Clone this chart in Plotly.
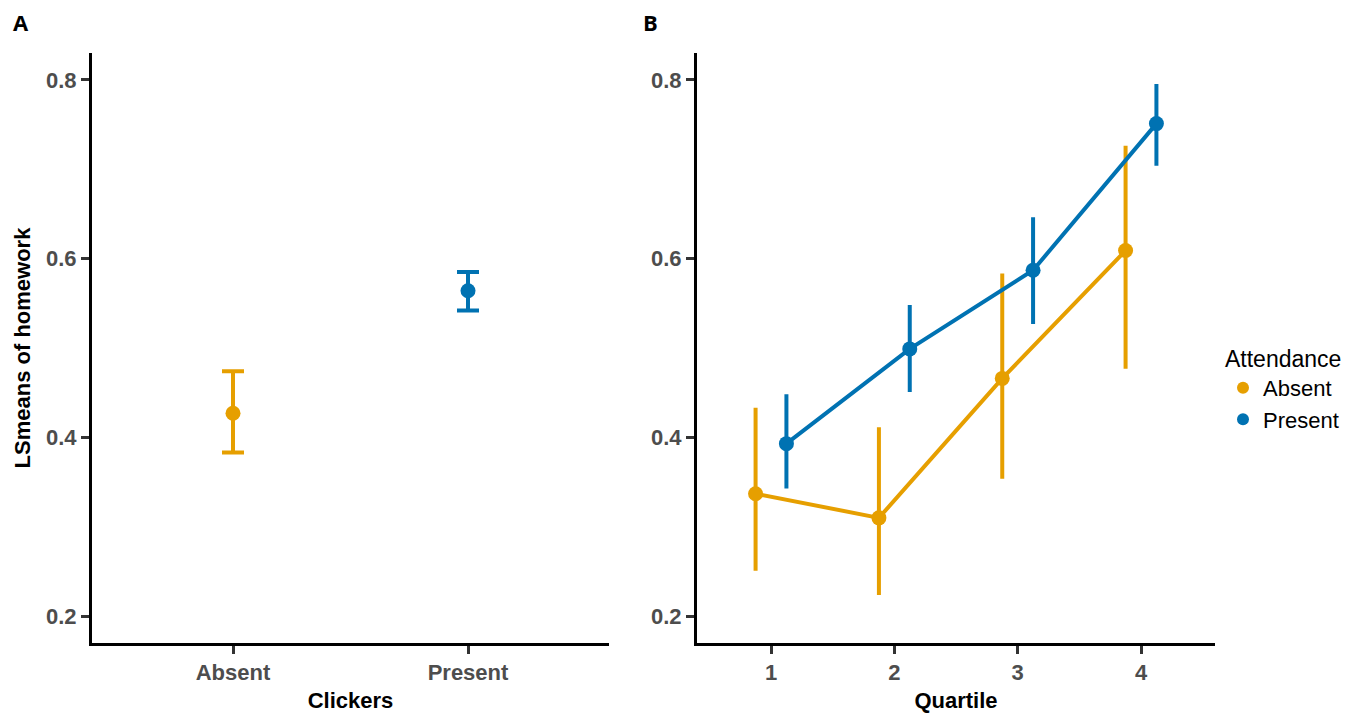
import numpy as np
import plotly.graph_objects as go

# ---------------- data ----------------
clickers = ["Absent", "Present"]
clk_mean = [0.427, 0.564]
clk_low = [0.383, 0.542]
clk_high = [0.474, 0.585]

quartiles = [1, 2, 3, 4]
abs_mean = [0.337, 0.310, 0.466, 0.609]
abs_low = [0.253, 0.226, 0.356, 0.479]
abs_high = [0.431, 0.409, 0.581, 0.724]
pres_mean = [0.393, 0.499, 0.587, 0.751]
pres_low = [0.345, 0.453, 0.529, 0.706]
pres_high = [0.446, 0.546, 0.644, 0.793]

y_ticks = [0.2, 0.4, 0.6, 0.8]

ORANGE = "#E69F00"
BLUE = "#0072B2"
colors = [ORANGE, BLUE]

FONT = "Liberation Sans, Arial, sans-serif"

fig = go.Figure()

# ---- Panel A ----
for i, cat in enumerate(clickers):
    fig.add_trace(go.Scatter(
        x=[cat], y=[clk_mean[i]], mode="markers",
        marker=dict(color=colors[i], size=15),
        error_y=dict(type="data", symmetric=False,
                     array=[clk_high[i] - clk_mean[i]],
                     arrayminus=[clk_mean[i] - clk_low[i]],
                     color=colors[i], thickness=4, width=11),
        name=cat, legendgroup=cat, showlegend=True,
        xaxis="x", yaxis="y",
    ))

# ---- Panel B ----
dodge = 0.125
q = np.array(quartiles, dtype=float)
for name, m, lo, hi, col, off in [
    ("Absent", abs_mean, abs_low, abs_high, ORANGE, -dodge),
    ("Present", pres_mean, pres_low, pres_high, BLUE, dodge),
]:
    m = np.array(m); lo = np.array(lo); hi = np.array(hi)
    fig.add_trace(go.Scatter(
        x=q + off, y=m, mode="lines+markers",
        line=dict(color=col, width=4),
        marker=dict(color=col, size=15),
        error_y=dict(type="data", symmetric=False,
                     array=hi - m, arrayminus=m - lo,
                     color=col, thickness=4, width=2),
        name=name, legendgroup=name, showlegend=False,
        xaxis="x2", yaxis="y2",
    ))

tickfont = dict(family=FONT, size=22, color="#4D4D4D", weight="bold")
titlefont = dict(family=FONT, size=22, color="black", weight="bold")
axis_common = dict(showline=True, linecolor="black", linewidth=3,
                   ticks="outside", ticklen=8, tickwidth=3, tickcolor="#333333",
                   showgrid=False, zeroline=False, tickfont=tickfont)

ydom = [(713 - 643) / 713, (713 - 53) / 713]

fig.update_layout(
    width=1346, height=713,
    margin=dict(l=0, r=0, t=0, b=0),
    paper_bgcolor="white", plot_bgcolor="white",
    xaxis=dict(domain=[92 / 1346, 609 / 1346], type="category",
               range=[-0.6, 1.6], anchor="y",
               title=dict(text="Clickers", font=titlefont, standoff=10),
               **axis_common),
    yaxis=dict(domain=ydom, range=[0.17, 0.83], tickvals=y_ticks,
               ticktext=[f"{v:.1f}" for v in y_ticks], anchor="x",
               title=dict(text="LSmeans of homework", font=titlefont, standoff=10),
               **axis_common),
    xaxis2=dict(domain=[697 / 1346, 1215 / 1346], range=[0.4, 4.6],
                tickvals=quartiles, anchor="y2",
                title=dict(text="Quartile", font=titlefont, standoff=10),
                **axis_common),
    yaxis2=dict(domain=ydom, range=[0.17, 0.83], tickvals=y_ticks,
                ticktext=[f"{v:.1f}" for v in y_ticks], anchor="x2",
                **axis_common),
    legend=dict(x=1223 / 1346, y=(713 - 337) / 713, xanchor="left", yanchor="top",
                title=dict(text="Attendance", font=dict(family=FONT, size=23, color="black")),
                font=dict(family=FONT, size=22, color="black"),
                tracegroupgap=0, itemsizing="constant", bgcolor="rgba(0,0,0,0)"),
    showlegend=True,
    annotations=[
        dict(text="A", x=11 / 1346, y=(713 - 22) / 713, xref="paper", yref="paper",
             xanchor="left", yanchor="middle", showarrow=False,
             font=dict(family="Open Sans, DejaVu Sans", size=22, color="black", weight="bold")),
        dict(text="B", x=641 / 1346, y=(713 - 22) / 713, xref="paper", yref="paper",
             xanchor="left", yanchor="middle", showarrow=False,
             font=dict(family="Open Sans, DejaVu Sans", size=22, color="black", weight="bold")),
    ],
)

fig.write_html("out.html", config={"displayModeBar": False},
               post_script="document.body.style.margin='0px';document.body.style.overflow='hidden';")
